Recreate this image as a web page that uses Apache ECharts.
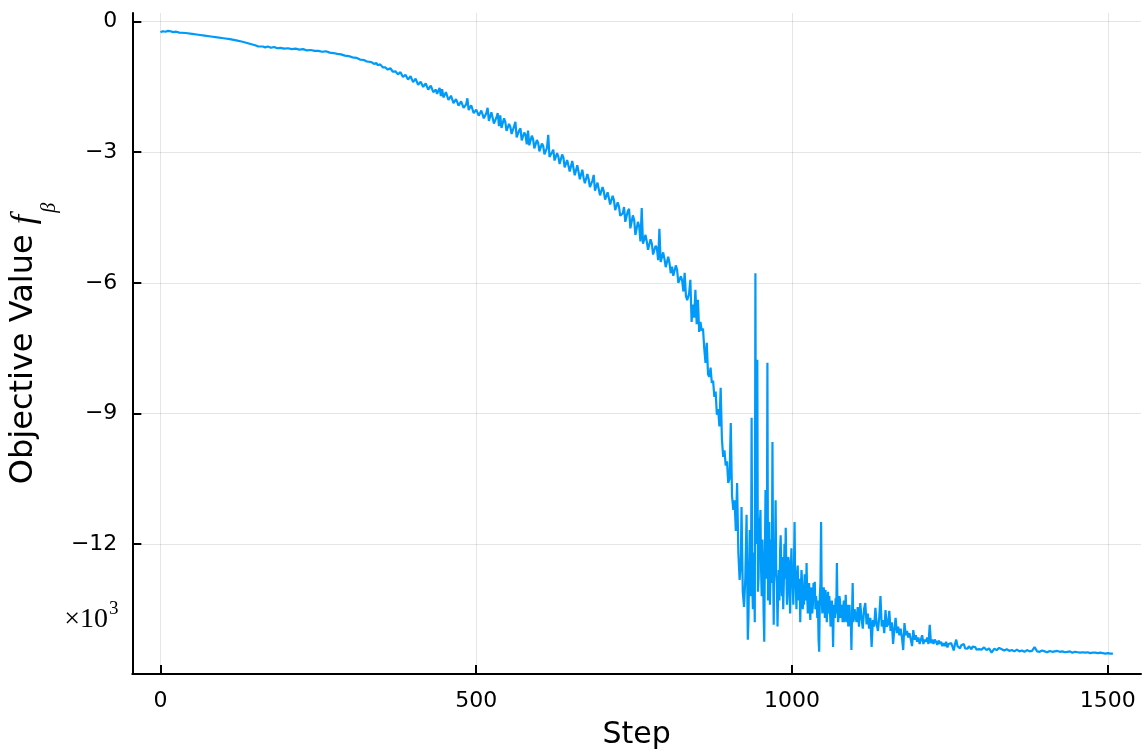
<!DOCTYPE html>
<html><head><meta charset="utf-8">
<script src="https://cdn.jsdelivr.net/npm/echarts@6/dist/echarts.min.js"></script>
<style>html,body{margin:0;padding:0;background:#fff}#chart{width:1148px;height:756px}</style>
</head><body><div id="chart"></div>
<script>
// ---- data (objective value, in units of 10^3) ----
const xTicks = [0, 500, 1000, 1500];
const yTicks = [0, -3, -6, -9, -12];

const warmupSteps = [0,4,8,12,16,20,25,30,40,50,60,70,80,90,100,110,120,130,140,150,155,158,162,166,170,175,180,185,190,196,202,208,214,220,226,232,238,244,250,256,262,268,274,280,286,292,298,304,310,316,322,326];
const warmupValues = [-0.24,-0.22,-0.23,-0.21,-0.22,-0.24,-0.23,-0.25,-0.26,-0.28,-0.30,-0.32,-0.34,-0.36,-0.38,-0.40,-0.43,-0.46,-0.50,-0.54,-0.57,-0.59,-0.57,-0.59,-0.57,-0.60,-0.58,-0.61,-0.60,-0.62,-0.61,-0.63,-0.62,-0.64,-0.63,-0.66,-0.65,-0.67,-0.67,-0.69,-0.68,-0.71,-0.72,-0.74,-0.75,-0.78,-0.79,-0.82,-0.83,-0.87,-0.88,-0.91];

// steps 330, 332, ... 832
const descentStart = 330, descentStride = 2;
const descentValues = [
-0.92,-0.91,-0.93,-0.95,-0.97,-0.96,-0.95,-1.00,-1.02,-0.98,
-1.01,-1.05,-1.08,-1.05,-1.03,-1.10,-1.12,-1.07,-1.10,-1.15,
-1.17,-1.14,-1.12,-1.21,-1.23,-1.16,-1.19,-1.27,-1.29,-1.22,
-1.24,-1.33,-1.35,-1.25,-1.27,-1.39,-1.40,-1.31,-1.33,-1.45,
-1.47,-1.38,-1.40,-1.50,-1.52,-1.42,-1.45,-1.56,-1.58,-1.47,
-1.50,-1.62,-1.60,-1.56,-1.66,-1.69,-1.52,-1.71,-1.55,-1.74,
-1.76,-1.62,-1.66,-1.80,-1.82,-1.70,-1.73,-1.87,-1.89,-1.78,
-1.85,-1.93,-1.95,-1.83,-1.86,-1.98,-2.00,-1.90,-1.76,-2.03,
-2.05,-1.92,-1.95,-2.10,-2.12,-2.02,-1.98,-2.16,-2.18,-2.04,
-2.07,-2.22,-2.24,-2.10,-1.98,-2.28,-2.30,-2.08,-2.12,-2.34,
-2.36,-2.20,-2.10,-2.40,-2.15,-2.44,-2.46,-2.22,-2.30,-2.51,
-2.53,-2.35,-2.42,-2.58,-2.60,-2.40,-2.30,-2.66,-2.68,-2.50,
-2.45,-2.73,-2.75,-2.55,-2.60,-2.82,-2.50,-2.84,-2.86,-2.62,
-2.70,-2.91,-2.93,-2.72,-2.78,-2.98,-3.00,-2.80,-2.85,-3.05,
-3.07,-2.90,-2.60,-3.11,-3.13,-3.00,-2.94,-3.19,-3.21,-3.02,
-3.10,-3.27,-3.29,-3.05,-3.12,-3.35,-3.37,-3.18,-3.15,-3.44,
-3.46,-3.20,-3.22,-3.53,-3.55,-3.30,-3.45,-3.62,-3.64,-3.40,
-3.59,-3.71,-3.73,-3.50,-3.62,-3.80,-3.82,-3.65,-3.52,-3.88,
-3.91,-3.70,-3.85,-3.99,-4.01,-3.80,-3.90,-4.09,-4.11,-3.92,
-4.05,-4.20,-4.22,-4.00,-4.10,-4.33,-4.35,-4.15,-4.25,-4.46,
-4.48,-4.40,-4.26,-4.60,-4.63,-4.35,-4.30,-4.75,-4.78,-4.45,
-4.55,-4.90,-4.93,-4.60,-4.70,-5.05,-4.28,-5.10,-5.13,-4.90,
-5.05,-5.24,-5.26,-5.00,-5.10,-5.35,-5.38,-5.15,-5.20,-5.48,
-4.76,-5.52,-5.55,-5.30,-5.45,-5.64,-5.67,-5.40,-5.55,-5.78,
-5.63,-5.84,-5.86,-5.60,-5.70,-6.00,-6.03,-5.85,-5.95,-6.20,
-5.77,-6.30];

const crashSteps = [834,837,839,841,843,845,847,849,851,853,855,857,859,861,863,865,867,869,871,873,875,877,879,881,883,885,887,889,891,893,895,897,899,901,903,905,907,909,911,913,915,917,919,920,922,924,926,928,930,931,933,935];
const crashValues = [-6.40,-6.25,-5.93,-6.90,-6.50,-6.80,-6.16,-6.95,-6.39,-7.13,-6.90,-7.10,-7.05,-7.50,-7.84,-7.38,-8.10,-8.16,-7.95,-8.30,-8.25,-8.62,-8.50,-9.03,-8.90,-9.30,-8.41,-9.60,-10.00,-9.85,-10.20,-10.10,-10.60,-10.50,-9.22,-10.90,-11.22,-11.00,-11.70,-10.60,-12.20,-12.83,-12.40,-11.15,-13.10,-13.45,-12.80,-11.33,-14.20,-13.70,-11.68,-13.20];

// steps 936, 937, ... 1100
const chaosStart = 936, chaosStride = 1;
const chaosValues = [
-9.10,-12.90,-13.50,-12.20,-12.40,-13.80,-5.78,-11.80,-12.00,-7.77,
-13.10,-12.76,-11.40,-11.60,-11.22,-12.60,-13.20,-11.90,-12.50,-13.60,
-14.25,-12.30,-10.76,-11.90,-12.80,-7.84,-13.30,-12.20,-11.50,-13.40,
-12.60,-11.90,-12.90,-9.66,-12.50,-13.86,-12.10,-12.40,-11.00,-12.70,
-12.90,-13.90,-13.10,-12.60,-13.30,-12.20,-11.80,-12.70,-13.20,-12.30,
-13.50,-12.90,-12.00,-12.80,-11.63,-12.60,-13.40,-13.00,-12.30,-12.40,
-13.10,-13.60,-12.70,-12.10,-12.80,-12.90,-13.40,-12.60,-11.50,-12.90,
-13.00,-13.50,-12.70,-12.50,-13.20,-13.30,-12.80,-13.80,-13.00,-12.60,
-12.90,-13.50,-13.10,-13.40,-12.70,-12.80,-13.30,-12.44,-13.20,-13.60,
-13.30,-12.90,-13.50,-13.75,-13.00,-13.10,-13.60,-13.40,-12.90,-13.30,
-12.87,-13.50,-13.20,-13.40,-13.70,-13.30,-14.20,-14.48,-13.20,-12.90,
-11.50,-13.30,-13.60,-13.40,-13.00,-13.10,-13.70,-13.06,-13.40,-13.80,
-13.50,-13.10,-13.60,-13.20,-13.50,-13.90,-13.70,-13.30,-13.60,-14.37,
-13.50,-13.40,-13.70,-13.25,-13.60,-12.44,-13.50,-13.80,-13.60,-13.20,
-13.30,-13.70,-13.60,-13.40,-13.80,-13.50,-13.30,-13.80,-13.60,-13.17,
-13.70,-13.80,-13.40,-13.90,-13.60,-13.40,-13.90,-13.70,-14.44,-13.60,
-12.90,-13.80,-13.70,-13.50,-13.60];

// steps 1102, 1104, ... 1300
const settleStart = 1102, settleStride = 2;
const settleValues = [
-13.80,-13.45,-13.90,-13.36,-13.70,-13.95,-13.50,-13.36,-13.85,-13.60,
-13.95,-13.70,-14.37,-13.75,-13.90,-13.47,-13.85,-14.00,-13.70,-13.20,
-13.90,-13.75,-14.05,-13.52,-13.90,-13.85,-13.54,-14.00,-13.80,-14.30,
-13.95,-13.70,-14.05,-13.90,-14.10,-13.95,-14.15,-14.44,-13.82,-14.10,
-14.00,-14.15,-14.05,-14.20,-14.35,-13.98,-14.20,-14.10,-14.25,-14.15,
-14.30,-14.20,-14.10,-14.30,-14.20,-14.25,-14.15,-14.30,-13.86,-14.28,
-14.20,-14.30,-14.20,-14.25,-14.32,-14.22,-14.30,-14.25,-14.35,-14.28,
-14.35,-14.25,-14.38,-14.30,-14.33,-14.28,-14.36,-14.45,-14.30,-14.20,
-14.35,-14.32,-14.40,-14.33,-14.36,-14.30,-14.40,-14.36,-14.41,-14.35,
-14.38,-14.42,-14.36,-14.40,-14.37,-14.43,-14.39,-14.42,-14.38,-14.43];

// steps 1304, 1308, ... 1508
const tailStart = 1304, tailStride = 4;
const tailValues = [
-14.38,-14.44,-14.40,-14.50,-14.41,-14.44,-14.39,-14.42,-14.45,-14.42,
-14.46,-14.44,-14.47,-14.43,-14.47,-14.45,-14.48,-14.44,-14.47,-14.46,
-14.37,-14.47,-14.48,-14.45,-14.47,-14.49,-14.46,-14.48,-14.47,-14.46,
-14.48,-14.47,-14.49,-14.48,-14.47,-14.50,-14.48,-14.49,-14.50,-14.49,
-14.50,-14.49,-14.51,-14.50,-14.50,-14.51,-14.50,-14.51,-14.52,-14.51,
-14.52,-14.52];

// ---- build series data ----
const points = [];
warmupSteps.forEach((s, i) => points.push([s, warmupValues[i]]));
descentValues.forEach((v, i) => points.push([descentStart + i * descentStride, v]));
crashSteps.forEach((s, i) => points.push([s, crashValues[i]]));
chaosValues.forEach((v, i) => points.push([chaosStart + i * chaosStride, v]));
settleValues.forEach((v, i) => points.push([settleStart + i * settleStride, v]));
tailValues.forEach((v, i) => points.push([tailStart + i * tailStride, v]));

const fmtMinus = v => v < 0 ? '\u2212' + Math.abs(v) : String(v);
const tickFont = 'DejaVu Sans';

const chart = echarts.init(document.getElementById('chart'), null, {renderer: 'canvas'});
chart.setOption({
  backgroundColor: '#ffffff',
  animation: false,
  grid: {left: 131, right: 7, top: 13, bottom: 82, containLabel: false},
  xAxis: {
    type: 'value', min: -44.5, max: 1552.5,
    name: 'Step', nameLocation: 'middle', nameGap: 46,
    nameTextStyle: {fontFamily: tickFont, fontSize: 30, color: '#000'},
    axisLine: {show: true, onZero: false, lineStyle: {color: '#000', width: 2}},
    axisTick: {show: true, inside: true, length: 9, customValues: xTicks, lineStyle: {color: '#000', width: 2}},
    axisLabel: {show: true, margin: 16, customValues: xTicks, fontFamily: tickFont, fontSize: 22, color: '#000', formatter: fmtMinus},
    splitLine: {show: true, lineStyle: {color: 'rgba(0,0,0,0.1)', width: 1}}
  },
  yAxis: {
    type: 'value', min: -14.99, max: 0.2,
    name: '{t|Objective Value }{f|f}{b|β}',
    nameLocation: 'middle', nameRotate: 90, nameGap: 76,
    nameTextStyle: {
      color: '#000',
      rich: {
        t: {fontFamily: tickFont, fontSize: 32, lineHeight: 40, verticalAlign: 'top', color: '#000'},
        f: {fontFamily: 'Liberation Serif', fontStyle: 'italic', fontSize: 34, lineHeight: 40, verticalAlign: 'top', color: '#000'},
        b: {fontFamily: 'Liberation Serif', fontStyle: 'italic', fontSize: 20, lineHeight: 20, padding: [32, 0, 0, 2], verticalAlign: 'top', color: '#000'}
      }
    },
    axisLine: {show: true, onZero: false, lineStyle: {color: '#000', width: 2}},
    axisTick: {show: true, inside: true, length: 9, customValues: yTicks, lineStyle: {color: '#000', width: 2}},
    axisLabel: {show: true, margin: 15, customValues: yTicks, fontFamily: tickFont, fontSize: 22, color: '#000', formatter: fmtMinus},
    splitLine: {show: true, lineStyle: {color: 'rgba(0,0,0,0.1)', width: 1}}
  },
  graphic: [
    {type: 'text', style: {text: '×10', x: 108, y: 620, font: '28px "Liberation Serif"', fill: '#000', textAlign: 'right', textVerticalAlign: 'middle'}},
    {type: 'text', style: {text: '3', x: 109, y: 609, font: '19px "Liberation Serif"', fill: '#000', textAlign: 'left', textVerticalAlign: 'middle'}}
  ],
  series: [{
    type: 'line', data: points, showSymbol: false, symbol: 'none',
    sampling: null, clip: true,
    lineStyle: {color: '#009AFA', width: 2.2}
  }]
});
</script></body></html>
